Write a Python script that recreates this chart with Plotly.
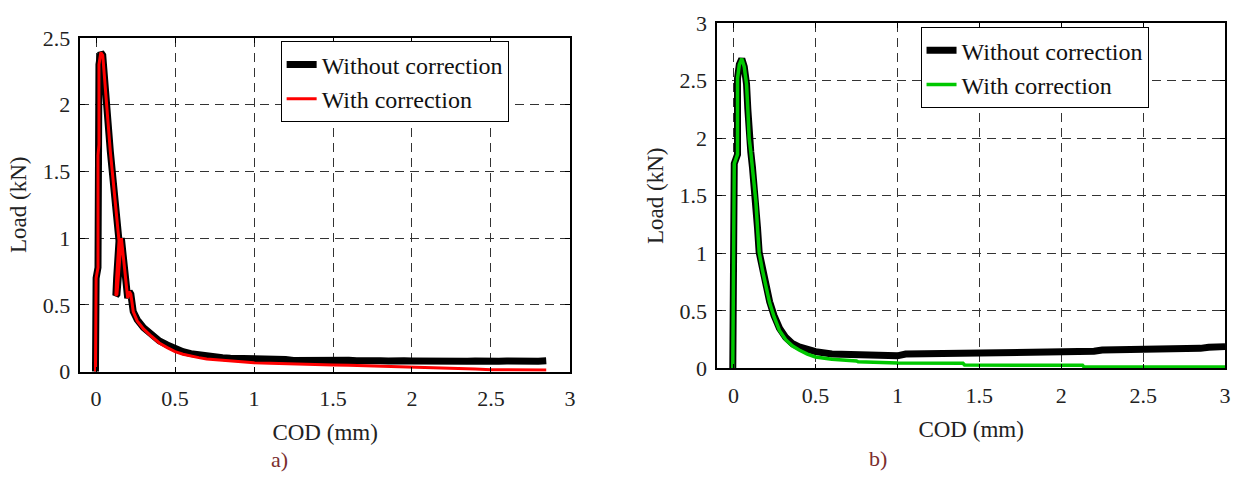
import plotly.graph_objects as go

# ---------------- Panel a data (COD mm, Load kN) ----------------
a_x_without = [-0.004, 0.0, 0.012, 0.012, 0.018, 0.018, 0.03, 0.042, 0.09, 0.145, 0.13, 0.125, 0.132, 0.16,
               0.2, 0.21, 0.22, 0.235, 0.26, 0.3, 0.35, 0.4, 0.45, 0.5, 0.55, 0.6, 0.65, 0.7, 0.75,
               0.8, 0.85, 0.9, 0.95, 1.0, 1.05, 1.1, 1.15, 1.2, 1.25, 1.3, 1.35, 1.4, 1.45, 1.5, 1.55,
               1.6, 1.65, 1.7, 1.75, 1.8, 1.85, 1.9, 1.95, 2.0, 2.05, 2.1, 2.15, 2.2, 2.25, 2.3, 2.35,
               2.4, 2.45, 2.5, 2.55, 2.6, 2.65, 2.7, 2.75, 2.8, 2.85]
a_y_without = [0.0, 0.7, 0.78, 1.62, 1.7, 2.3, 2.39, 2.37, 1.65, 0.98, 0.7, 0.57, 0.58, 1.0,
               0.55, 0.6, 0.58, 0.45, 0.39, 0.33, 0.28, 0.23, 0.2, 0.17, 0.15, 0.135, 0.125, 0.118, 0.112,
               0.105, 0.1, 0.1, 0.095, 0.094, 0.09, 0.088, 0.09, 0.091, 0.084, 0.086, 0.083, 0.088, 0.085, 0.087, 0.084,
               0.086, 0.082, 0.085, 0.083, 0.082, 0.079, 0.084, 0.081, 0.08, 0.078, 0.083, 0.08, 0.082, 0.079, 0.08, 0.077,
               0.079, 0.076, 0.072, 0.078, 0.08, 0.077, 0.079, 0.081, 0.078, 0.082]

a_x_with = [-0.004, 0.0, 0.012, 0.012, 0.018, 0.018, 0.03, 0.042, 0.09, 0.145, 0.13, 0.125, 0.132, 0.16,
            0.2, 0.21, 0.22, 0.235, 0.26, 0.3, 0.35, 0.4, 0.45, 0.5, 0.55, 0.6, 0.65, 0.7, 0.75,
            0.8, 0.85, 0.9, 0.95, 1.0, 1.1, 1.2, 1.3, 1.4, 1.5, 1.6, 1.7, 1.8, 1.9, 2.0, 2.1,
            2.2, 2.3, 2.4, 2.5, 2.6, 2.7, 2.8, 2.85]
a_y_with = [0.0, 0.7, 0.78, 1.62, 1.7, 2.3, 2.39, 2.37, 1.65, 0.98, 0.7, 0.57, 0.58, 1.0,
            0.55, 0.6, 0.58, 0.45, 0.38, 0.32, 0.265, 0.215, 0.18, 0.15, 0.13, 0.115, 0.105, 0.095, 0.09,
            0.085, 0.082, 0.078, 0.072, 0.066, 0.062, 0.058, 0.055, 0.052, 0.05, 0.048, 0.045, 0.04, 0.036, 0.032, 0.03,
            0.026, 0.022, 0.02, 0.014, 0.015, 0.012, 0.012, 0.013]

# ---------------- Panel b data (COD mm, Load kN) ----------------
b_x_without = [-0.005, 0.0, 0.004, 0.024, 0.024, 0.035, 0.05, 0.065, 0.079, 0.087, 0.095, 0.105, 0.115, 0.125,
               0.136, 0.146, 0.156, 0.175, 0.196, 0.22, 0.247, 0.28, 0.318, 0.36,
               0.4, 0.45, 0.5, 0.6, 0.75, 0.8, 1.0, 1.05, 1.5, 1.9, 2.0, 2.2, 2.25, 2.6, 2.65, 2.85, 2.9, 3.0]
b_y_without = [0.0, 0.82, 1.78, 1.86, 2.52, 2.64, 2.69, 2.62, 2.47, 2.25, 2.0, 1.88, 1.75, 1.62,
               1.45, 1.22, 1.01, 0.86, 0.72, 0.58, 0.46, 0.35, 0.27, 0.215,
               0.187, 0.165, 0.146, 0.126, 0.118, 0.11, 0.11, 0.125, 0.132, 0.14, 0.148, 0.15, 0.16, 0.165, 0.172, 0.175, 0.185, 0.19]

b_x_with = [-0.005, 0.0, 0.004, 0.024, 0.024, 0.035, 0.05, 0.065, 0.079, 0.087, 0.095, 0.105, 0.115, 0.125,
            0.136, 0.146, 0.156, 0.175, 0.196, 0.22, 0.247, 0.28, 0.318, 0.36,
            0.4, 0.45, 0.5, 0.6, 0.75, 0.76, 1.0, 1.4, 1.41, 2.13, 2.14, 3.0]
b_y_with = [0.0, 0.82, 1.78, 1.86, 2.52, 2.64, 2.69, 2.62, 2.47, 2.25, 2.0, 1.88, 1.75, 1.62,
            1.45, 1.22, 1.01, 0.86, 0.72, 0.57, 0.45, 0.33, 0.25, 0.195,
            0.16, 0.125, 0.1, 0.08, 0.065, 0.058, 0.048, 0.045, 0.03, 0.028, 0.012, 0.012]

x_ticks = [0, 0.5, 1, 1.5, 2, 2.5, 3]
x_ticktext = ["0", "0.5", "1", "1.5", "2", "2.5", "3"]
a_y_ticks = [0, 0.5, 1, 1.5, 2, 2.5]
a_y_ticktext = ["0", "0.5", "1", "1.5", "2", "2.5"]
b_y_ticks = [0, 0.5, 1, 1.5, 2, 2.5, 3]
b_y_ticktext = ["0", "0.5", "1", "1.5", "2", "2.5", "3"]

FONT = "Liberation Serif, Times New Roman, serif"
W, H = 1242, 482

fig = go.Figure()
fig.add_trace(go.Scatter(x=a_x_without, y=a_y_without, mode="lines", name="Without correction",
                         line=dict(color="black", width=7), xaxis="x", yaxis="y", legend="legend"))
fig.add_trace(go.Scatter(x=a_x_with, y=a_y_with, mode="lines", name="With correction",
                         line=dict(color="#ff0000", width=3), xaxis="x", yaxis="y", legend="legend"))
fig.add_trace(go.Scatter(x=b_x_without, y=b_y_without, mode="lines", name="Without correction",
                         line=dict(color="black", width=7), xaxis="x2", yaxis="y2", legend="legend2"))
fig.add_trace(go.Scatter(x=b_x_with, y=b_y_with, mode="lines", name="With correction",
                         line=dict(color="#00c800", width=3.5), xaxis="x2", yaxis="y2", legend="legend2"))

def xaxis(domain, anchor):
    return dict(domain=domain, anchor=anchor, range=[-0.1, 3], tickvals=x_ticks, ticktext=x_ticktext,
                showgrid=True, gridcolor="#333", griddash="9px,6px", gridwidth=1,
                showline=True, linecolor="black", linewidth=1.5, mirror="allticks",
                ticks="inside", ticklen=5, tickcolor="black", zeroline=False,
                tickfont=dict(family=FONT, size=22, color="#222"), ticklabelstandoff=6,
                title=dict(text="COD (mm)", font=dict(family=FONT, size=23, color="#222"), standoff=14))

def yaxis(domain, anchor, rng, tv, tt):
    return dict(domain=domain, anchor=anchor, range=rng, tickvals=tv, ticktext=tt,
                showgrid=True, gridcolor="#333", griddash="9px,6px", gridwidth=1,
                showline=True, linecolor="black", linewidth=1.5, mirror="allticks",
                ticks="inside", ticklen=5, tickcolor="black", zeroline=False,
                tickfont=dict(family=FONT, size=22, color="#222"), ticklabelstandoff=4,
                title=dict(text="Load (kN)", font=dict(family=FONT, size=23, color="#222"), standoff=10))

fig.update_layout(
    width=W, height=H, margin=dict(l=0, r=0, t=0, b=0),
    font=dict(family=FONT, size=21, color="#222"),
    paper_bgcolor="white", plot_bgcolor="white",
    xaxis=xaxis([80.7 / W, 572.7 / W], "y"),
    yaxis=yaxis([1 - 379.3 / H, 1 - 27.3 / H], "x", [0, 2.5], a_y_ticks, a_y_ticktext),
    xaxis2=xaxis([720.7 / W, 1231 / W], "y2"),
    yaxis2=yaxis([1 - 376 / H, 1 - 11.7 / H], "x2", [0, 3], b_y_ticks, b_y_ticktext),
    legend=dict(x=282 / W, y=1 - 31 / H, xanchor="left", yanchor="top",
                bgcolor="white", bordercolor="black", borderwidth=1,
                font=dict(family=FONT, size=24, color="#111"), tracegroupgap=0),
    legend2=dict(x=925 / W, y=1 - 16 / H, xanchor="left", yanchor="top",
                 bgcolor="white", bordercolor="black", borderwidth=1,
                 font=dict(family=FONT, size=24, color="#111"), tracegroupgap=0),
    annotations=[
        dict(text="a)", x=281 / W, y=1 - 472 / H, xref="paper", yref="paper", showarrow=False,
             xanchor="center", yanchor="middle", font=dict(family=FONT, size=22, color="#7b2e2e")),
        dict(text="b)", x=882 / W, y=1 - 471 / H, xref="paper", yref="paper", showarrow=False,
             xanchor="center", yanchor="middle", font=dict(family=FONT, size=22, color="#7b2e2e")),
    ],
)

fig.write_html("out.html")
